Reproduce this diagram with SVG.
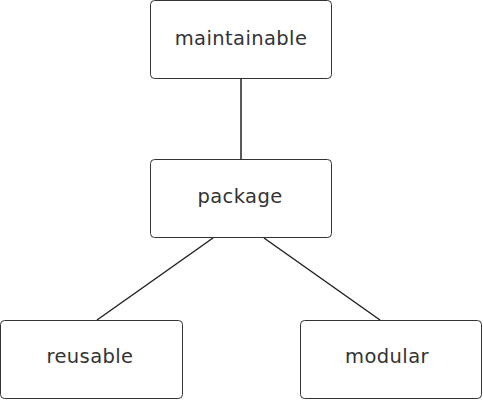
<svg xmlns="http://www.w3.org/2000/svg" width="483" height="400" viewBox="0 0 483 400">
<style>
.box{fill:#fff;stroke:#333;stroke-width:1}
.lbl{font-family:"DejaVu Sans","Noto Sans",sans-serif;font-size:19.5px;fill:#333;text-anchor:middle;letter-spacing:0.4px}
.edge{stroke:#222;stroke-width:1.5;fill:none}
</style>
<rect width="483" height="400" fill="#fff"/>
<g id="connectors">
<line class="edge" x1="241" y1="79" x2="241" y2="160"/>
<line class="edge" x1="213" y1="238" x2="97" y2="320"/>
<line class="edge" x1="264" y1="238" x2="380" y2="320"/>
</g>
<g id="maintainable">
<rect class="box" x="150.5" y="0.5" width="181" height="78" rx="4"/>
<text class="lbl" x="241" y="45">maintainable</text>
</g>
<g id="package">
<rect class="box" x="150.5" y="159.5" width="181" height="78" rx="4"/>
<text class="lbl" x="240" y="203">package</text>
</g>
<g id="reusable">
<rect class="box" x="0.5" y="320.5" width="182" height="78" rx="4"/>
<text class="lbl" x="90" y="363">reusable</text>
</g>
<g id="modular">
<rect class="box" x="300.5" y="320.5" width="181" height="78" rx="4"/>
<text class="lbl" x="387" y="363">modular</text>
</g>
</svg>
